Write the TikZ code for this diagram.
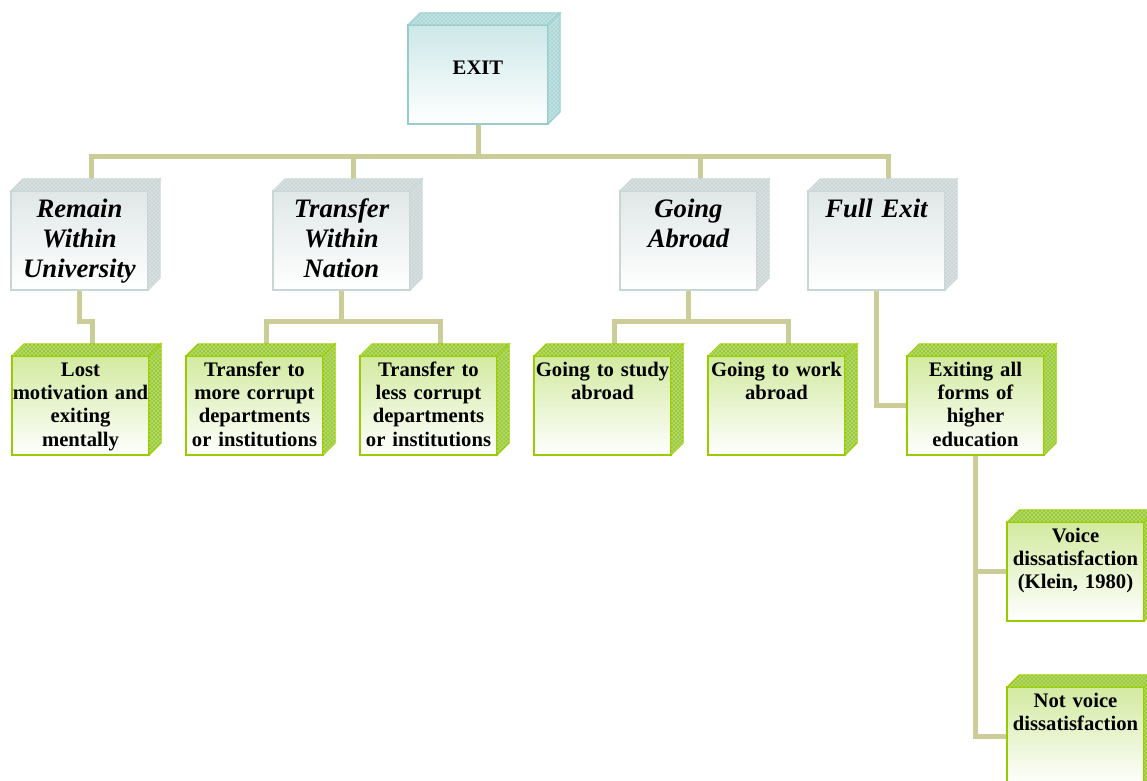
\documentclass[tikz,border=0pt]{standalone}
\usepackage{fontspec}
\setmainfont{Liberation Serif}
\usetikzlibrary{calc,patterns,positioning}
\pgfdeclarelayer{background}
\pgfsetlayers{background,main}

\definecolor{exitline}{HTML}{99CCCC}
\definecolor{exittop}{HTML}{CDE8E8}
\definecolor{exitface}{HTML}{AED8D8}
\definecolor{routeline}{HTML}{C8D6D6}
\definecolor{routetop}{HTML}{E0E7E7}
\definecolor{routeface}{HTML}{CCD6D6}
\definecolor{leafline}{HTML}{99CC00}
\definecolor{leaftop}{HTML}{D2EAA0}
\definecolor{leafface}{HTML}{9CCC3C}
\definecolor{branchcol}{HTML}{CCCC99}

\tikzset{
  box/.style={rectangle, inner xsep=0.5pt, inner ysep=0pt, outer sep=0pt,
    align=center, text width=101.75pt},
  exitbox/.style={box, draw=exitline, line width=1pt, top color=exittop,
    bottom color=white, text width=104pt, text height=37pt, text depth=37.25pt,
    font=\fontsize{15.5}{17.5}\selectfont\bfseries},
  routebox/.style={box, draw=routeline, line width=1pt, top color=routetop,
    bottom color=white, text height=20.25pt, text depth=54pt,
    font=\fontsize{20}{22.5}\selectfont\bfseries\itshape},
  leafbox/.style={box, draw=leafline, line width=1.5pt, top color=leaftop,
    bottom color=white, text height=15pt, text depth=59.25pt,
    font=\fontsize{15.5}{17.5}\selectfont\bfseries},
  boxside/.style={draw=#1line, line width=0.8pt, fill=#1face,
    postaction={pattern=crosshatch dots, pattern color=white}},
  branch/.style={draw=branchcol, line width=3.75pt},
}

\begin{document}
\begin{tikzpicture}[x=0.75pt,y=-0.75pt]
\useasboundingbox (0,0) rectangle (1147,781);

        % nodes
        \node[exitbox] (exit) at (478,74.5) {EXIT};

        \node[routebox] (remain) at (79.5,240.5) {Remain\\Within\\University};
        \node[routebox] (nation) at (341.5,240.5) {Transfer\\Within\\Nation};
        \node[routebox] (abroad) at (688.5,240.5) {Going\\Abroad};
        \node[routebox] (full) at (876.5,240.5) {Full Exit};

        \node[leafbox] (lost) at (80.5,405.5) {Lost\\motivation and\\exiting\\mentally};
        \node[leafbox] (more) at (254.5,405.5) {Transfer to\\more corrupt\\departments\\or institutions};
        \node[leafbox] (less) at (428.5,405.5) {Transfer to\\less corrupt\\departments\\or institutions};
        \node[leafbox] (study) at (602.5,405.5) {Going to study\\abroad};
        \node[leafbox] (work) at (776.5,405.5) {Going to work\\abroad};
        \node[leafbox] (higher) at (975.5,405.5) {Exiting all\\forms of\\higher\\education};
        \node[leafbox] (voice) at (1075.5,571.5) {Voice\\dissatisfaction\\(Klein, 1980)};
        \node[leafbox] (silent) at (1075.5,736.5) {Not voice\\dissatisfaction};

        % box tops and sides
        \foreach \n in {exit} {
            \filldraw[boxside=exit] (\n.north west) -- ++(12,-12) -- ($(\n.north east)+(12,-12)$) -- (\n.north east) -- cycle;
            \filldraw[boxside=exit] (\n.north east) -- ++(12,-12) -- ($(\n.south east)+(12,-12)$) -- (\n.south east) -- cycle;
        }
        \foreach \n in {remain,nation,abroad,full} {
            \filldraw[boxside=route] (\n.north west) -- ++(12,-12) -- ($(\n.north east)+(12,-12)$) -- (\n.north east) -- cycle;
            \filldraw[boxside=route] (\n.north east) -- ++(12,-12) -- ($(\n.south east)+(12,-12)$) -- (\n.south east) -- cycle;
            \coordinate (\n-top) at ($(\n.north)+(12,-12)$);
        }
        \foreach \n in {lost,more,less,study,work,higher,voice,silent} {
            \filldraw[boxside=leaf] (\n.north west) -- ++(12,-12) -- ($(\n.north east)+(12,-12)$) -- (\n.north east) -- cycle;
            \filldraw[boxside=leaf] (\n.north east) -- ++(12,-12) -- ($(\n.south east)+(12,-12)$) -- (\n.south east) -- cycle;
            \coordinate (\n-top) at ($(\n.north)+(12,-12)$);
        }

        % branches
        \begin{pgfonlayer}{background}
        \draw[branch] (exit.south) -- ++(0,33) coordinate (bus);
        \draw[branch] (remain-top) -- (remain-top |- bus) -- (full-top |- bus) -- (full-top);
        \foreach \n in {nation,abroad}
            \draw[branch] (\n-top) -- (\n-top |- bus);

        \draw[branch] (remain.south) -- ++(0,31.5) -| (lost-top);

        \draw[branch] (nation.south) -- ++(0,31.5) coordinate (nj);
        \draw[branch] (more-top) -- (more-top |- nj) -- (less-top |- nj) -- (less-top);

        \draw[branch] (abroad.south) -- ++(0,31.5) coordinate (aj);
        \draw[branch] (study-top) -- (study-top |- aj) -- (work-top |- aj) -- (work-top);

        \draw[branch] (full.south) |- (higher.west);
        \draw[branch] (higher.south) |- (voice.west);
        \draw[branch] (higher.south) |- (silent.west);
        \end{pgfonlayer}

    \end{tikzpicture}
\end{document}
